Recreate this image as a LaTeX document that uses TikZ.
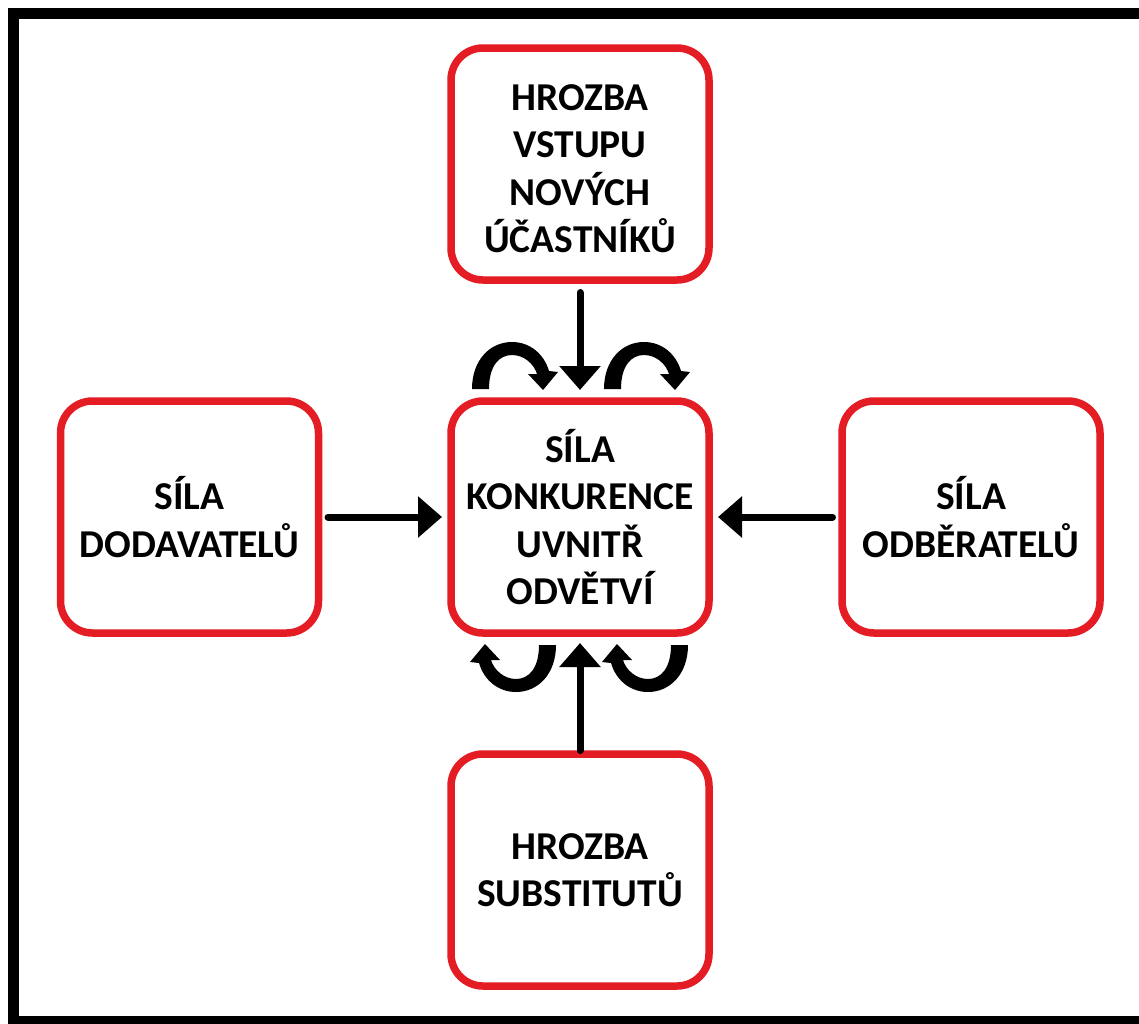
\documentclass[tikz,border=0pt]{standalone}
\usepackage{fontspec}
\setmainfont{Carlito}
\usetikzlibrary{arrows.meta}
\definecolor{boxred}{RGB}{228,28,36}
\tikzset{
  force/.style={draw=boxred, line width=7.5pt, rounded corners=32pt, fill=white,
    minimum width=258pt, minimum height=232pt, inner sep=0pt, outer sep=0pt,
    align=center, text=black, font=\fontsize{39.5}{47.5}\selectfont\bfseries},
  push/.style={line width=7pt, line cap=round, -{Triangle[width=40pt,length=24pt]}},
  swirl/.style={fill=black, draw=none}
}
\newcommand\swirlshape{%
  \fill[swirl] (472,389) -- (489,389)
  .. controls (489,366) and (499,355) .. (512,355)
  .. controls (524,355) and (534,364) .. (537,374)
  -- (528,374) -- (543,390) -- (558,372) -- (549,371)
  .. controls (544,354) and (530,342) .. (512,342)
  .. controls (490,342) and (472,360) .. (472,389) -- cycle;}
\begin{document}
\begin{tikzpicture}[x=1pt,y=-1pt]
\useasboundingbox (0,0) rectangle (1139,1023);
\draw[line width=11pt] (13.5,13.5) rectangle (1170,1021.5);

\node[force] (entry) at (580,164) {\rule{0pt}{35pt}HROZBA\\VSTUPU\\NOVÝCH\\ÚČASTNÍKŮ};
\node[force] (rivalry) at (580,517) {SÍLA\\KONKURENCE\\UVNITŘ\\ODVĚTVÍ};
\node[force] (suppliers) at (189.5,517) {SÍLA\\DODAVATELŮ};
\node[force] (buyers) at (971,517) {SÍLA\\ODBĚRATELŮ};
\node[force] (subst) at (580,870) {HROZBA\\SUBSTITUTŮ};

\draw[push, shorten <=12.5pt, shorten >=11pt] (entry.south) -- (rivalry.north);
\draw[push, shorten <=3.5pt, shorten >=10pt] (subst.north) -- (rivalry.south);
\draw[push, shorten <=9.5pt, shorten >=9pt] (suppliers.east) -- (rivalry.west);
\draw[push, shorten <=9.5pt, shorten >=9pt] (buyers.west) -- (rivalry.east);

\swirlshape
\begin{scope}[xshift=132pt]
  \swirlshape
\end{scope}
\begin{scope}[rotate around={180:(580,517)}]
  \swirlshape
  \begin{scope}[xshift=132pt]
    \swirlshape
  \end{scope}
\end{scope}
\end{tikzpicture}
\end{document}
